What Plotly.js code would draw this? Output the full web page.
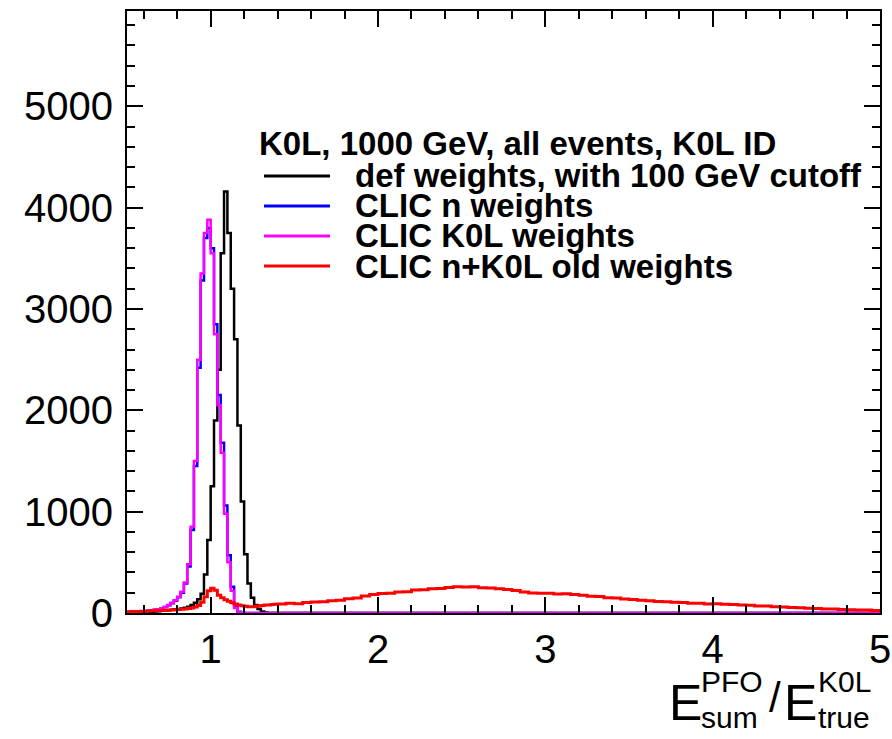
<!DOCTYPE html>
<html><head><meta charset="utf-8">
<script src="https://cdn.plot.ly/plotly-3.0.1.min.js"></script>
<style>html,body{margin:0;padding:0;background:#fff}#chart{width:892px;height:739px}</style>
</head><body><div id="chart"></div>
<script>
// ---- data: histogram bin lower edges ----
const binEdgesFine = [0.50,0.52,0.54,0.56,0.58,0.60,0.62,0.64,0.66,0.68,0.70,0.72,0.74,0.76,0.78,0.80,0.82,0.84,0.86,0.88,0.90,0.92,0.94,0.96,0.98,1.00,1.02,1.04,1.06,1.08,1.10,1.12,1.14,1.16,1.18,1.20,1.22,1.24,1.26,1.28,1.30,1.32,1.34,1.36,1.38];
const fineUpperEdge = 1.40;
const binEdgesTail = [1.40,1.45,1.50,1.55,1.60,1.65,1.70,1.75,1.80,1.85,1.90,1.95,2.00,2.05,2.10,2.15,2.20,2.25,2.30,2.35,2.40,2.45,2.50,2.55,2.60,2.65,2.70,2.75,2.80,2.85,2.90,2.95,3.00,3.05,3.10,3.15,3.20,3.25,3.30,3.35,3.40,3.45,3.50,3.55,3.60,3.65,3.70,3.75,3.80,3.85,3.90,3.95,4.00,4.05,4.10,4.15,4.20,4.25,4.30,4.35,4.40,4.45,4.50,4.55,4.60,4.65,4.70,4.75,4.80,4.85,4.90,4.95];
const xUpper = 5.0;

// ---- series values (entries per bin) ----
const defWeights = [2,3,4,5,6,8,10,12,15,18, 22,25,28,32,36,40,45,52,62,78, 100,135,190,380,720, 1250,1900,2400,3550,4160,3750,3200,2700,1850,1100, 580,290,150,80,40,15,5,0,0,0];
const clicNWeights = [4,6,8,10,13,17,21,26,31,37, 44,58,76,96,120,155,200,290,460,820, 1450,2420,3280,3700,3800, 3600,2850,2150,1680,1060,570,260,70,12,3, 0,0,0,0,0,0,0,0,0,0];
const clicK0LWeights = [4,6,8,11,14,18,22,27,32,38, 45,60,80,100,125,160,210,300,480,850, 1500,2500,3350,3750,3880, 3550,2750,2050,1580,980,500,220,50,8,2, 0,0,0,0,0,0,0,0,0,0];
const clicOldFine = [12,14,15,16,18,18,20,21,22,24, 25,26,28,30,32,34,36,40,45,50, 58,75,105,160,220, 245,225,175,150,130,115,100,90,80,72, 66,62,62,65,70,74,78,80,84,86];
const clicOldTail = [88,95,92,104,108,112,120,126,140,148,168,182,192,196,208,210,226,230,240,242,252,258,256,260,248,246,240,232,222,208,198,194,196,188,190,182,176,166,162,150,148,138,134,126,122,114,112,106,104,97,96,90,91,86,84,78,76,70,68,62,60,54,52,47,45,40,39,35,33,30,29,24];

const seriesNames = ["def weights, with 100 GeV cutoff","CLIC n weights","CLIC K0L weights","CLIC n+K0L old weights"];
const legendHeader = "K0L, 1000 GeV, all events, K0L ID";
const xTickVals = [1,2,3,4,5];
const yTickVals = [0,1000,2000,3000,4000,5000];

// ---- styles ----
const colors = ["#000000","#0000ff","#ff00ff","#ff0000"];
const widths = [2.5,2.5,2.5,3];

const W = 892, H = 739;
const M = {l:127, r:12, t:11, b:126};
const pw = W - M.l - M.r, ph = H - M.t - M.b;
const px = v => (v - M.l) / pw;
const py = v => (H - M.b - v) / ph;

const peakSeries = [defWeights, clicNWeights, clicK0LWeights];
const traces = peakSeries.map((vals, i) => ({
  type: 'scatter', mode: 'lines', line: {shape: 'hv', color: colors[i], width: widths[i]},
  x: binEdgesFine.concat([fineUpperEdge, xUpper]),
  y: vals.concat([0, 0]),
  name: seriesNames[i], showlegend: false, hoverinfo: 'skip'
}));
traces.push({
  type: 'scatter', mode: 'lines', line: {shape: 'hv', color: colors[3], width: widths[3]},
  x: binEdgesFine.concat(binEdgesTail, [xUpper]),
  y: clicOldFine.concat(clicOldTail, [clicOldTail[clicOldTail.length - 1]]),
  name: seriesNames[3], showlegend: false, hoverinfo: 'skip'
});

const FONT = "Liberation Sans, Arial, Helvetica, sans-serif";
const annotations = [];
const shapes = [];
// legend header
annotations.push({xref:'paper', yref:'paper', x: px(257), y: py(143), xanchor:'left', yanchor:'middle',
  text: legendHeader, showarrow:false, font:{family:FONT, size:33, weight:'bold', color:'#000'}});
const rowY = [176, 206, 236, 266];
seriesNames.forEach((n, i) => {
  shapes.push({type:'line', xref:'paper', yref:'paper', x0: px(264), x1: px(330), y0: py(rowY[i]), y1: py(rowY[i]),
    line:{color: colors[i], width: 3}});
  annotations.push({xref:'paper', yref:'paper', x: px(353), y: py(rowY[i]), xanchor:'left', yanchor:'middle',
    text: n, showarrow:false, font:{family:FONT, size:33, weight:'bold', color:'#000'}});
});
// x axis title E^{PFO}_{sum}/E^{K0L}_{true}
const big = 50, small = 30;
const ttl = [
  {t:'E', x:667, y:703, s:big},
  {t:'PFO', x:699, y:681, s:small},
  {t:'sum', x:699, y:717, s:small},
  {t:'/', x:767, y:697, s:42},
  {t:'E', x:782, y:703, s:big},
  {t:'K0L', x:816, y:681, s:small},
  {t:'true', x:816, y:717, s:small}
];
ttl.forEach(o => annotations.push({xref:'paper', yref:'paper', x: px(o.x), y: py(o.y), xanchor:'left', yanchor:'middle',
  text:o.t, showarrow:false, font:{family:FONT, size:o.s, color:'#000'}}));

const axisCommon = {
  showline:true, linecolor:'#000', linewidth:2, mirror:'allticks',
  ticks:'inside', tickcolor:'#000', tickwidth:2, ticklen:16,
  showgrid:false, zeroline:false,
  tickfont:{family:FONT, size:40, color:'#000'}
};
const layout = {
  width: W, height: H, margin: M, paper_bgcolor:'#fff', plot_bgcolor:'#fff',
  showlegend:false,
  xaxis: Object.assign({}, axisCommon, {range:[0.5, 5], tickvals: xTickVals, ticktext: xTickVals.map(String),
    minor:{dtick:0.2, tick0:0, ticklen:8, tickwidth:2, tickcolor:'#000', ticks:'inside'}, ticklabelstandoff: 0}),
  yaxis: Object.assign({}, axisCommon, {range:[0, 5940], tickvals: yTickVals, ticktext: yTickVals.map(String),
    minor:{dtick:200, tick0:0, ticklen:8, tickwidth:2, tickcolor:'#000', ticks:'inside'}, ticklabelstandoff: 4}),
  annotations, shapes
};
Plotly.newPlot('chart', traces, layout, {staticPlot:true, displayModeBar:false});
</script></body></html>
